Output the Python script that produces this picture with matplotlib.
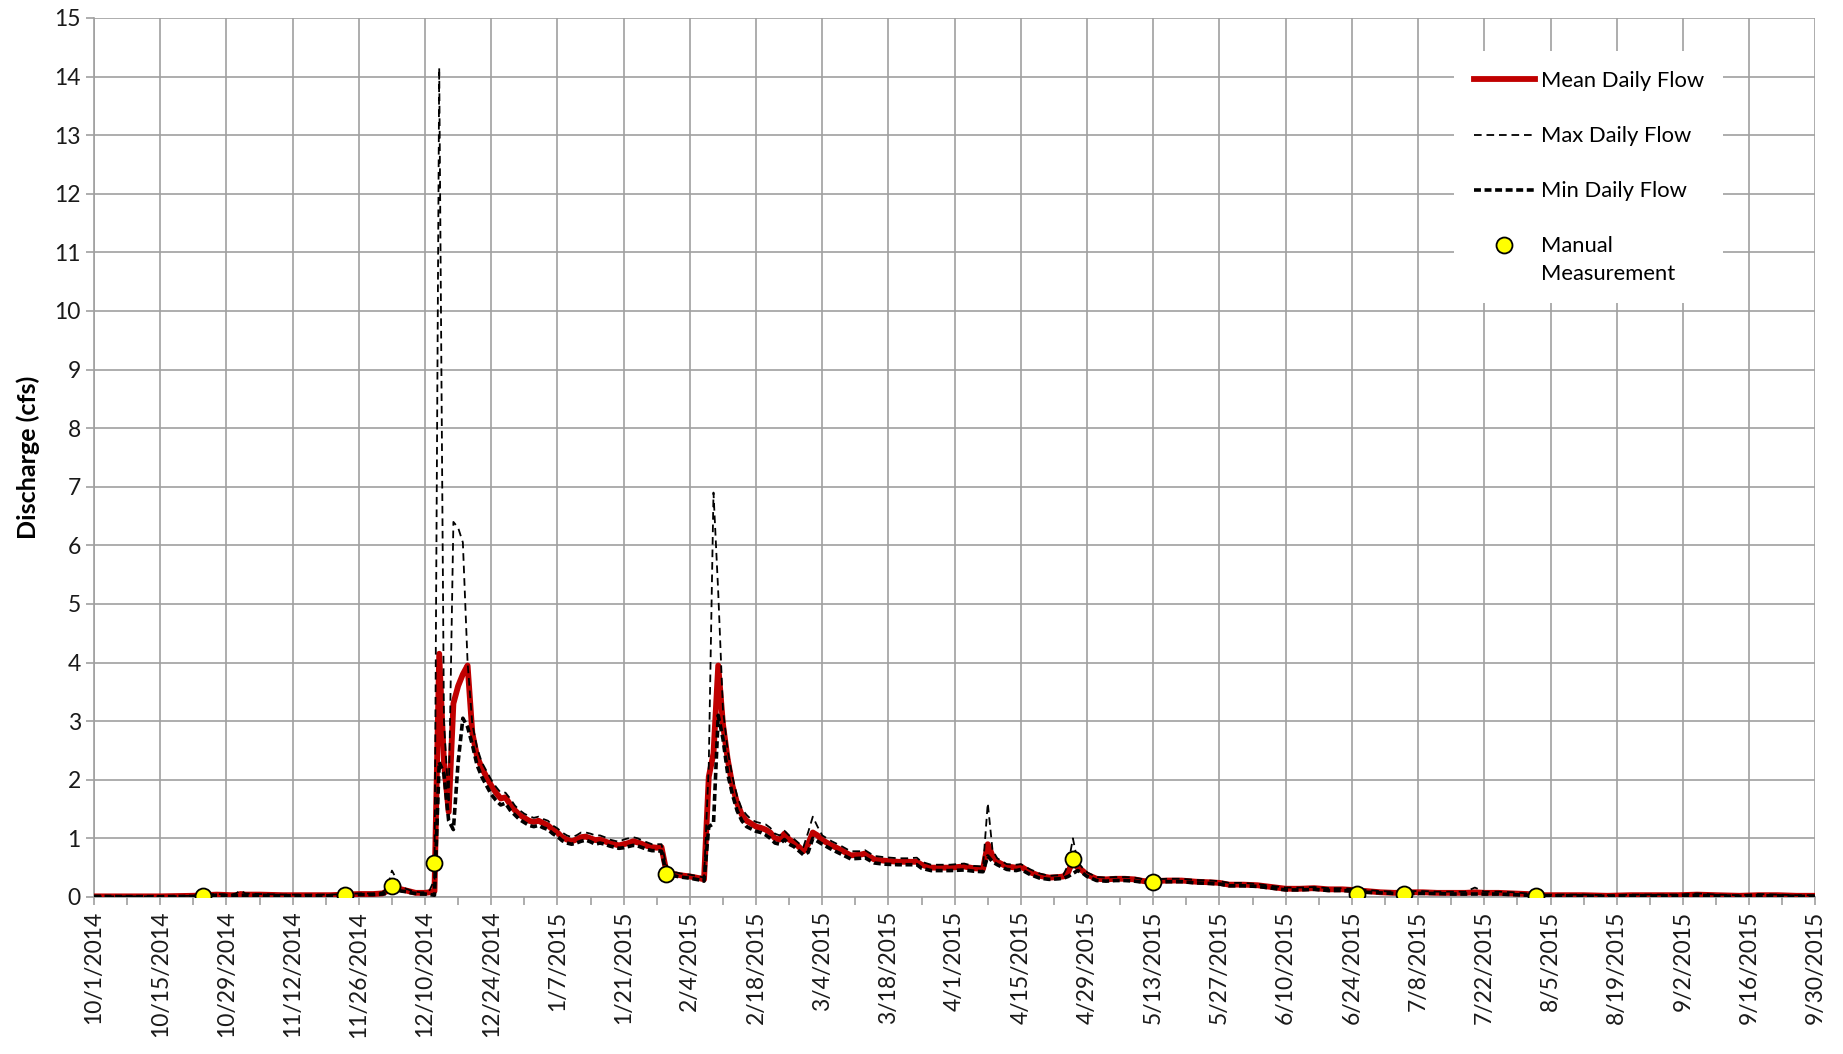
import numpy as np
import matplotlib
matplotlib.use("Agg")
import matplotlib.pyplot as plt
from matplotlib.legend_handler import HandlerLine2D
from matplotlib.transforms import Affine2D
import datetime as dt

plt.rcParams['font.family'] = ['Lato', 'DejaVu Sans']
plt.rcParams['lines.scale_dashes'] = False

START = dt.date(2014, 10, 1)

# day offsets from 10/1/2014
day_offset = [0, 7, 14, 21, 23, 26, 29, 30, 31, 32, 35, 40, 45, 50, 53, 56, 59, 61, 62, 63,
              64, 65, 66, 67, 68, 69, 70, 71, 72, 73, 74, 75, 76, 77, 78, 79, 80, 81, 82, 83,
              84, 85, 86, 87, 88, 89, 90, 91, 92, 93, 94, 95, 96, 97, 98, 99, 100, 101, 102, 103,
              104, 105, 106, 107, 108, 109, 110, 111, 112, 113, 114, 115, 116, 117, 118, 119, 120, 121, 122, 124,
              126, 128, 129, 130, 131, 132, 133, 134, 135, 136, 137, 138, 139, 140, 141, 142, 143, 144, 145, 146,
              147, 148, 149, 150, 151, 152, 153, 154, 156, 158, 160, 162, 163, 165, 167, 170, 172, 174, 175, 177,
              179, 181, 184, 186, 188, 189, 190, 191, 193, 195, 196, 198, 200, 202, 204, 205, 206, 207, 208, 209,
              210, 212, 214, 216, 218, 220, 222, 224, 227, 230, 233, 236, 238, 240, 243, 246, 249, 252, 255, 258,
              261, 264, 266, 269, 272, 275, 278, 281, 284, 287, 290, 292, 294, 297, 300, 303, 306, 310, 315, 320,
              325, 330, 335, 339, 343, 348, 352, 356, 360, 364]

mean_flow = [0.01, 0.01, 0.01, 0.02, 0.03, 0.04, 0.03, 0.03, 0.05, 0.04, 0.04, 0.03, 0.03, 0.03, 0.04, 0.05, 0.05, 0.06, 0.10, 0.17,
             0.16, 0.13, 0.11, 0.09, 0.07, 0.07, 0.07, 0.08, 0.10, 4.15, 2.30, 1.45, 3.30, 3.60, 3.80, 3.95, 2.80, 2.40, 2.20, 2.05,
             1.90, 1.78, 1.68, 1.70, 1.58, 1.48, 1.40, 1.35, 1.30, 1.28, 1.30, 1.26, 1.22, 1.15, 1.10, 1.02, 0.98, 0.95, 0.98, 1.02,
             1.03, 1.00, 0.97, 0.98, 0.95, 0.92, 0.90, 0.88, 0.90, 0.92, 0.95, 0.93, 0.90, 0.87, 0.85, 0.84, 0.85, 0.45, 0.40, 0.37,
             0.35, 0.32, 0.30, 2.05, 2.45, 3.95, 2.95, 2.35, 1.90, 1.60, 1.40, 1.30, 1.25, 1.20, 1.18, 1.15, 1.10, 1.00, 0.98, 1.08,
             0.98, 0.93, 0.86, 0.78, 0.90, 1.10, 1.05, 0.97, 0.88, 0.80, 0.71, 0.72, 0.74, 0.64, 0.62, 0.60, 0.60, 0.60, 0.55, 0.50,
             0.50, 0.50, 0.52, 0.49, 0.48, 0.90, 0.70, 0.60, 0.52, 0.50, 0.52, 0.42, 0.36, 0.33, 0.34, 0.35, 0.42, 0.62, 0.50, 0.45,
             0.38, 0.31, 0.30, 0.31, 0.31, 0.30, 0.27, 0.27, 0.28, 0.28, 0.26, 0.25, 0.24, 0.21, 0.21, 0.20, 0.17, 0.14, 0.14, 0.15,
             0.13, 0.13, 0.12, 0.10, 0.08, 0.07, 0.08, 0.08, 0.07, 0.07, 0.07, 0.08, 0.07, 0.07, 0.06, 0.05, 0.03, 0.03, 0.03, 0.02,
             0.03, 0.03, 0.03, 0.04, 0.03, 0.02, 0.03, 0.03, 0.02, 0.02]

max_flow = [0.01, 0.01, 0.01, 0.02, 0.04, 0.05, 0.04, 0.06, 0.11, 0.06, 0.05, 0.04, 0.04, 0.04, 0.05, 0.06, 0.06, 0.08, 0.15, 0.45,
            0.30, 0.17, 0.14, 0.11, 0.09, 0.08, 0.08, 0.12, 0.30, 14.15, 3.00, 1.60, 6.40, 6.30, 6.05, 4.00, 2.95, 2.55, 2.30, 2.15,
            2.00, 1.88, 1.78, 1.78, 1.68, 1.56, 1.48, 1.42, 1.38, 1.35, 1.37, 1.33, 1.30, 1.22, 1.17, 1.10, 1.05, 1.02, 1.05, 1.10,
            1.10, 1.08, 1.05, 1.05, 1.02, 0.98, 0.96, 0.94, 0.98, 1.00, 1.02, 1.00, 0.96, 0.93, 0.90, 0.90, 0.90, 0.55, 0.44, 0.40,
            0.38, 0.35, 0.33, 2.25, 6.90, 5.20, 3.20, 2.50, 2.05, 1.72, 1.50, 1.40, 1.32, 1.28, 1.26, 1.24, 1.18, 1.08, 1.05, 1.13,
            1.05, 0.99, 0.92, 0.85, 1.10, 1.37, 1.20, 1.05, 0.95, 0.87, 0.78, 0.78, 0.80, 0.70, 0.68, 0.66, 0.66, 0.67, 0.60, 0.55,
            0.55, 0.55, 0.57, 0.53, 0.52, 1.60, 0.80, 0.66, 0.56, 0.55, 0.56, 0.47, 0.40, 0.36, 0.37, 0.38, 0.55, 1.00, 0.60, 0.50,
            0.42, 0.34, 0.33, 0.34, 0.34, 0.33, 0.30, 0.30, 0.31, 0.31, 0.29, 0.28, 0.27, 0.24, 0.24, 0.22, 0.19, 0.16, 0.16, 0.17,
            0.15, 0.15, 0.14, 0.12, 0.10, 0.09, 0.10, 0.10, 0.09, 0.09, 0.09, 0.16, 0.09, 0.09, 0.08, 0.06, 0.04, 0.04, 0.04, 0.03,
            0.04, 0.04, 0.04, 0.06, 0.04, 0.03, 0.05, 0.04, 0.03, 0.03]

min_flow = [0.01, 0.005, 0.005, 0.01, 0.02, 0.03, 0.02, 0.02, 0.03, 0.03, 0.03, 0.02, 0.02, 0.02, 0.03, 0.04, 0.04, 0.05, 0.06, 0.10,
            0.12, 0.10, 0.09, 0.07, 0.06, 0.05, 0.05, 0.04, 0.03, 2.30, 2.10, 1.30, 1.15, 2.30, 3.05, 2.90, 2.60, 2.25, 2.05, 1.90,
            1.75, 1.65, 1.57, 1.60, 1.48, 1.40, 1.32, 1.27, 1.22, 1.20, 1.22, 1.18, 1.15, 1.08, 1.03, 0.96, 0.92, 0.90, 0.92, 0.95,
            0.97, 0.94, 0.90, 0.92, 0.90, 0.87, 0.85, 0.83, 0.84, 0.86, 0.88, 0.87, 0.84, 0.81, 0.79, 0.79, 0.78, 0.40, 0.37, 0.34,
            0.32, 0.29, 0.27, 1.20, 1.25, 3.10, 2.70, 2.10, 1.75, 1.47, 1.30, 1.20, 1.16, 1.12, 1.10, 1.06, 1.00, 0.92, 0.90, 0.98,
            0.90, 0.86, 0.79, 0.72, 0.76, 1.00, 0.95, 0.90, 0.81, 0.73, 0.65, 0.66, 0.67, 0.58, 0.56, 0.55, 0.55, 0.55, 0.49, 0.45,
            0.45, 0.45, 0.46, 0.44, 0.43, 0.70, 0.60, 0.55, 0.47, 0.45, 0.47, 0.38, 0.32, 0.30, 0.31, 0.32, 0.35, 0.40, 0.45, 0.41,
            0.35, 0.28, 0.27, 0.28, 0.28, 0.27, 0.25, 0.25, 0.26, 0.26, 0.24, 0.23, 0.22, 0.19, 0.19, 0.18, 0.15, 0.12, 0.12, 0.13,
            0.11, 0.11, 0.10, 0.08, 0.07, 0.06, 0.06, 0.06, 0.06, 0.05, 0.05, 0.05, 0.05, 0.05, 0.04, 0.03, 0.02, 0.02, 0.02, 0.01,
            0.02, 0.02, 0.02, 0.03, 0.02, 0.01, 0.02, 0.02, 0.01, 0.01]

meas_dates = ["2014-10-24", "2014-11-23", "2014-12-03", "2014-12-12", "2015-01-30",
              "2015-04-26", "2015-05-13", "2015-06-25", "2015-07-05", "2015-08-02"]
meas_values = [0.02, 0.03, 0.18, 0.58, 0.40, 0.64, 0.26, 0.05, 0.05, 0.01]

dates = [START + dt.timedelta(days=d) for d in day_offset]
mdates_list = [dt.date.fromisoformat(s) for s in meas_dates]

fig = plt.figure(figsize=(18.43, 10.54), dpi=100)
ax = fig.add_axes([0.051, 0.149, 0.934, 0.834])

ax.plot(dates, mean_flow, color='#C00000', lw=4.2, solid_joinstyle='round',
        label='Mean Daily Flow', zorder=3)
ax.plot(dates, max_flow, color='black', lw=1.3, dashes=(5.5, 3.5),
        label='Max Daily Flow', zorder=4)
ax.plot(dates, min_flow, color='black', lw=2.6, dashes=(5.0, 2.6),
        label='Min Daily Flow', zorder=5)
meas_line, = ax.plot(mdates_list, meas_values, linestyle='none', marker='o', markersize=11.5,
                     markerfacecolor='#FFFF00', markeredgecolor='black', markeredgewidth=1.3,
                     label='Manual\nMeasurement', zorder=6)

end = START + dt.timedelta(days=364)
ax.set_xlim(START, end)
ax.set_ylim(0, 15)

major = [START + dt.timedelta(days=14 * k) for k in range(27)]
minor = [START + dt.timedelta(days=7 + 14 * k) for k in range(26)]
ax.set_xticks(major)
ax.set_xticks(minor, minor=True)
ax.set_xticklabels([f"{d.month}/{d.day}/{d.year}" for d in major], rotation=90)
ax.set_yticks(range(0, 16))

ax.grid(True, which='major', color='#a0a0a0', lw=1.2)
ax.set_axisbelow(True)
for s in ['top', 'right']:
    ax.spines[s].set_visible(False)
for s in ['left', 'bottom']:
    ax.spines[s].set_color('#a0a0a0')
    ax.spines[s].set_linewidth(1.2)

ax.tick_params(axis='both', which='both', direction='out', color='#a0a0a0',
               width=1.2, length=6, labelsize=16.5, labelcolor='#1a1a1a')
ax.tick_params(axis='x', which='major', pad=4)

ax.set_ylabel('Discharge (cfs)', fontsize=18, fontweight='bold', labelpad=10)


class UpHandler(HandlerLine2D):
    def create_artists(self, legend, orig_handle, xdescent, ydescent, width, height,
                       fontsize, trans):
        arts = super().create_artists(legend, orig_handle, xdescent, ydescent, width,
                                      height, fontsize, trans)
        shifted = Affine2D().translate(0, 11.0) + trans
        for a in arts:
            a.set_transform(shifted)
        return arts


leg = ax.legend(loc='upper left', bbox_to_anchor=(0.790, 0.962), borderaxespad=0,
                frameon=True, fancybox=False, framealpha=1, edgecolor='white',
                facecolor='white', fontsize=15.8, handlelength=2.8, labelspacing=1.6,
                borderpad=0.9, handletextpad=0.25,
                handler_map={meas_line: UpHandler()})
leg.get_frame().set_linewidth(0)
leg.get_texts()[3].set_linespacing(1.45)

fig.savefig('out.png', dpi=100)
